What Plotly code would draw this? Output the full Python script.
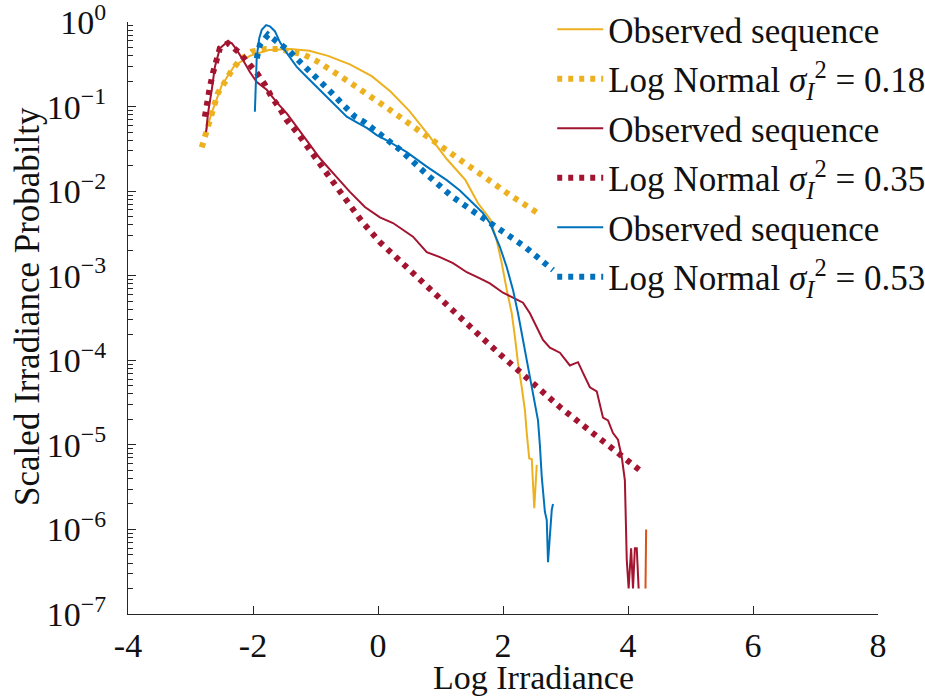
import plotly.graph_objects as go

# Observed sequence, sigma_I^2 = 0.18
obs1_x = [-2.78, -2.65, -2.50, -2.30, -2.05, -1.75, -1.40, -1.10, -0.80, -0.45, -0.10,
          0.20, 0.50, 0.80, 1.10, 1.40, 1.60, 1.80, 1.90, 1.98, 2.06, 2.14, 2.19, 2.24,
          2.30, 2.35, 2.38, 2.42, 2.46, 2.50, 2.54]
obs1_y = [4.5e-2, 8.9e-2, 0.178, 0.302, 0.398, 0.468, 0.479, 0.457, 0.398, 0.316, 0.229,
          0.151, 8.9e-2, 4.7e-2, 2.4e-2, 1.35e-2, 7.2e-3, 4.6e-3, 2.6e-3, 1.41e-3, 6.8e-4,
          3.6e-4, 1.9e-4, 9.3e-5, 4.8e-5, 2.6e-5, 1.38e-5, 6.9e-6, 6.8e-6, 1.78e-6, 5.8e-6]

# Log-normal fit, sigma_I^2 = 0.18
fit1_x = [-2.82, -2.74, -2.64, -2.56, -2.45, -2.34, -2.21, -2.02, -1.81, -1.60, -1.38,
          -1.17, -0.96, -0.77, -0.58, -0.40, -0.21, -0.02, 0.16, 0.67, 1.23, 1.74, 2.14, 2.54]
fit1_y = [3.3e-2, 5.2e-2, 9.5e-2, 0.145, 0.195, 0.269, 0.355, 0.447, 0.479, 0.479, 0.447,
          0.407, 0.339, 0.269, 0.224, 0.182, 0.148, 0.120, 9.5e-2, 5.1e-2, 2.6e-2, 1.35e-2,
          8.7e-3, 5.6e-3]

# Observed sequence, sigma_I^2 = 0.35
obs2_x = [-2.75, -2.72, -2.66, -2.61, -2.53, -2.42, -2.34, -2.26, -2.16, -2.05, -1.94,
          -1.78, -1.62, -1.46, -1.30, -1.14, -0.93, -0.69, -0.45, -0.21, 0.03, 0.24, 0.56,
          0.78, 0.99, 1.20, 1.42, 1.63, 1.79, 2.00, 2.16, 2.32, 2.43, 2.54, 2.64, 2.75,
          2.91, 3.07, 3.20, 3.28, 3.39, 3.50, 3.60, 3.68, 3.76, 3.84, 3.90, 3.95, 3.98,
          4.01, 4.05, 4.08, 4.11, 4.14, 4.17]
obs2_y = [5.0e-2, 8.3e-2, 0.158, 0.295, 0.490, 0.575, 0.562, 0.468, 0.355, 0.257, 0.195,
          0.158, 0.112, 8.3e-2, 5.75e-2, 4.0e-2, 2.45e-2, 1.55e-2, 9.8e-3, 6.5e-3, 4.9e-3,
          4.2e-3, 2.9e-3, 1.9e-3, 1.66e-3, 1.41e-3, 1.10e-3, 9.3e-4, 8.1e-4, 6.3e-4, 5.5e-4,
          4.8e-4, 3.6e-4, 2.5e-4, 1.74e-4, 1.41e-4, 1.23e-4, 8.7e-5, 9.5e-5, 7.1e-5, 4.8e-5,
          4.3e-5, 2.1e-5, 1.95e-5, 1.38e-5, 1.15e-5, 7.2e-6, 3.8e-6, 4.4e-7, 2.0e-7, 6.0e-7,
          2.0e-7, 6.0e-7, 6.0e-7, 2.0e-7]

# Log-normal fit, sigma_I^2 = 0.35
fit2_x = [-2.77, -2.74, -2.69, -2.64, -2.58, -2.53, -2.40, -2.21, -2.08, -1.94, -1.81,
          -1.70, -1.57, -1.46, -1.30, -1.17, -1.06, -0.77, -0.51, -0.26, 0.03, 0.35, 0.67,
          0.99, 1.31, 1.63, 1.95, 2.27, 2.59, 2.91, 3.23, 3.55, 3.87, 4.19]
fit2_y = [7.6e-2, 0.112, 0.170, 0.251, 0.355, 0.490, 0.562, 0.427, 0.331, 0.251, 0.182,
          0.129, 9.5e-2, 6.9e-2, 5.0e-2, 3.7e-2, 2.7e-2, 1.39e-2, 7.9e-3, 4.4e-3, 2.5e-3,
          1.49e-3, 8.9e-4, 5.2e-4, 3.2e-4, 1.95e-4, 1.18e-4, 7.2e-5, 4.5e-5, 2.8e-5,
          1.82e-5, 1.17e-5, 7.6e-6, 5.0e-6]

# Observed sequence, sigma_I^2 = 0.53
obs3_x = [-1.97, -1.94, -1.90, -1.86, -1.79, -1.73, -1.65, -1.57, -1.46, -1.30, -1.14,
          -0.98, -0.82, -0.66, -0.50, -0.34, -0.18, -0.02, 0.14, 0.46, 0.78, 1.10, 1.31,
          1.52, 1.68, 1.79, 1.87, 1.95, 2.06, 2.16, 2.24, 2.32, 2.40, 2.46, 2.51, 2.56,
          2.59, 2.62, 2.67, 2.70, 2.72, 2.75, 2.78, 2.80]
obs3_y = [8.7e-2, 0.389, 0.646, 0.81, 0.92, 0.89, 0.78, 0.58, 0.43, 0.295, 0.224, 0.170,
          0.129, 9.8e-2, 7.6e-2, 6.5e-2, 5.6e-2, 4.6e-2, 4.0e-2, 2.9e-2, 1.95e-2, 1.35e-2,
          1.02e-2, 7.2e-3, 5.5e-3, 4.2e-3, 3.0e-3, 2.2e-3, 1.26e-3, 6.8e-4, 3.6e-4, 1.74e-4,
          8.3e-5, 4.8e-5, 3.4e-5, 1.95e-5, 1.0e-5, 4.2e-6, 1.62e-6, 1.29e-6, 4.1e-7, 8.1e-7,
          1.70e-6, 2.0e-6]

# Log-normal fit, sigma_I^2 = 0.53
fit3_x = [-1.94, -1.89, -1.76, -1.57, -1.41, -1.25, -1.12, -0.96, -0.82, -0.66, -0.50,
          -0.37, -0.21, -0.02, 0.35, 0.78, 1.18, 1.55, 1.95, 2.35, 2.80]
fit3_y = [0.372, 0.537, 0.708, 0.562, 0.447, 0.339, 0.269, 0.204, 0.166, 0.126, 9.5e-2,
          7.6e-2, 6.5e-2, 5.0e-2, 3.1e-2, 1.58e-2, 8.7e-3, 5.6e-3, 3.5e-3, 2.2e-3, 1.17e-3]

# Short extra segment near the right end
extra_x = [4.29, 4.28]
extra_y = [1.0e-6, 2.0e-7]

x_ticks = [-4, -2, 0, 2, 4, 6, 8]
x_labels = ["-4", "-2", "0", "2", "4", "6", "8"]
y_ticks = [1e-7, 1e-6, 1e-5, 1e-4, 1e-3, 1e-2, 1e-1, 1e0]
y_labels = ["10<sup>\u22127</sup>", "10<sup>\u22126</sup>", "10<sup>\u22125</sup>",
            "10<sup>\u22124</sup>", "10<sup>\u22123</sup>", "10<sup>\u22122</sup>",
            "10<sup>\u22121</sup>", "10<sup>0</sup>"]

YELLOW = "#EDB120"
RED = "#A2142F"
BLUE = "#0072BD"
ORANGE = "#D95319"
FONT = "Liberation Serif"
TXT = "#111111"

fit_name = "Log Normal <i>\u03c3</i><sub><i>I</i></sub><sup>2</sup> = {}"

series = [
    (obs1_x, obs1_y, YELLOW, "solid", "Observed sequence"),
    (fit1_x, fit1_y, YELLOW, "dot", fit_name.format("0.18")),
    (obs2_x, obs2_y, RED, "solid", "Observed sequence"),
    (fit2_x, fit2_y, RED, "dot", fit_name.format("0.35")),
    (obs3_x, obs3_y, BLUE, "solid", "Observed sequence"),
    (fit3_x, fit3_y, BLUE, "dot", fit_name.format("0.53")),
]

fig = go.Figure()
for i, (xs, ys, col, style, name) in enumerate(series):
    if style == "dot":
        line = dict(color=col, width=6, dash="5px,6px")
    else:
        line = dict(color=col, width=2)
    fig.add_trace(go.Scatter(x=xs, y=ys, mode="lines", line=line, name=name,
                             legendgroup="g%d" % i))

fig.add_trace(go.Scatter(x=extra_x, y=extra_y, mode="lines",
                         line=dict(color=ORANGE, width=2), showlegend=False))

axis_common = dict(
    showline=True, linecolor="#262626", linewidth=1,
    ticks="inside", ticklen=8, tickwidth=1, tickcolor="#262626",
    showgrid=False, zeroline=False, mirror=False, ticklabeloverflow="allow",
    tickfont=dict(family=FONT, size=34, color=TXT),
)

fig.update_layout(
    width=925, height=697, autosize=False,
    margin=dict(l=128, r=47, t=22, b=83, autoexpand=False),
    paper_bgcolor="white", plot_bgcolor="white",
    font=dict(family=FONT, size=34, color=TXT),
    xaxis=dict(range=[-4, 8], tickvals=x_ticks, ticktext=x_labels,
               ticklabelstandoff=1, **axis_common),
    yaxis=dict(type="log", range=[-7, 0.0005], tickvals=y_ticks, ticktext=y_labels,
               ticklabelstandoff=14,
               minor=dict(ticks="inside", ticklen=5, tickcolor="#262626", dtick="D1",
                          showgrid=False),
               **axis_common),
    legend=dict(x=0.597, y=1.008, xref="container", yref="container",
                xanchor="left", yanchor="top", bgcolor="rgba(0,0,0,0)",
                font=dict(family=FONT, size=35, color=TXT),
                tracegroupgap=1, itemwidth=46),
    showlegend=True,
    annotations=[
        dict(text="Log Irradiance", xref="paper", yref="paper", x=0.541, y=-0.107,
             xanchor="center", yanchor="middle", showarrow=False,
             font=dict(family=FONT, size=34, color=TXT)),
        dict(text="Scaled Irradiance Probabilty", xref="paper", yref="paper",
             x=-0.135, y=0.52, xanchor="center", yanchor="middle", textangle=-90,
             showarrow=False, font=dict(family=FONT, size=35, color=TXT)),
    ],
)

fig.write_html("out.html")
